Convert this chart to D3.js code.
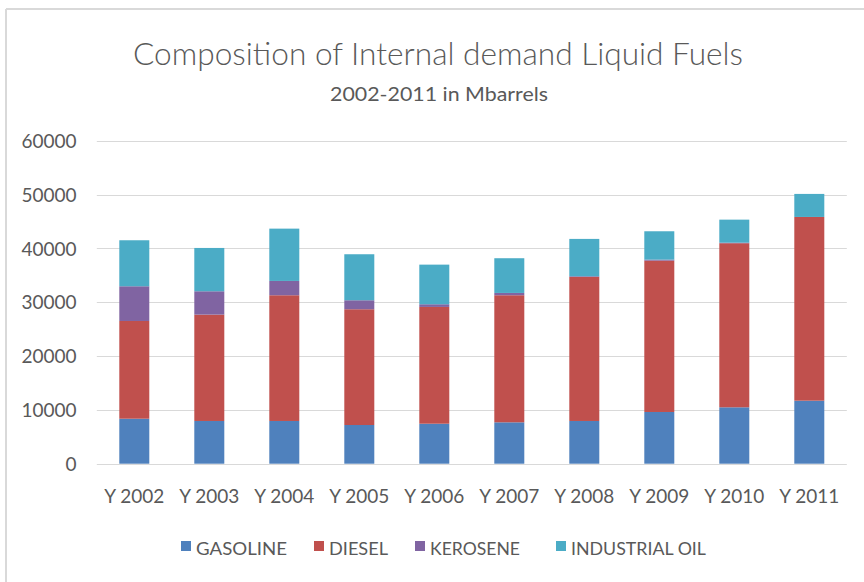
<!DOCTYPE html>
<html>
<head>
<meta charset="utf-8">
<script src="https://cdn.jsdelivr.net/npm/d3@7"></script>
<style>
  html, body { margin: 0; padding: 0; background: #fff; }
  svg { display: block; }
  text { font-family: Lato, "Open Sans", sans-serif; fill: #595959; }
</style>
</head>
<body>
<svg id="chart" width="864" height="582"></svg>
<script>
const categories = ["Y 2002","Y 2003","Y 2004","Y 2005","Y 2006","Y 2007","Y 2008","Y 2009","Y 2010","Y 2011"];
const seriesNames = ["GASOLINE","DIESEL","KEROSENE","INDUSTRIAL OIL"];
const gasoline   = [8360, 7940, 7940, 7190, 7430, 7690, 7940, 9610, 10480, 11710];
const diesel     = [18160, 19760, 23360, 21510, 21700, 23610, 26760, 28120, 30490, 34140];
const kerosene   = [6450, 4340, 2660, 1670, 500, 430, 130, 190, 100, 0];
const industrial = [8550, 8050, 9720, 8550, 7360, 6450, 6940, 5270, 4280, 4280];
const yTicks = [0, 10000, 20000, 30000, 40000, 50000, 60000];
const colors = ["#4F81BD", "#C0504D", "#8064A2", "#4BACC6"];
const titleText = "Composition of Internal demand Liquid Fuels";
const subtitleText = "2002-2011 in Mbarrels";

const svg = d3.select("#chart");

// chart border (left & top visible)
svg.append("line").attr("x1", 6).attr("x2", 6).attr("y1", 9).attr("y2", 582)
  .attr("stroke", "#d9d9d9").attr("stroke-width", 2);
svg.append("line").attr("x1", 6).attr("x2", 864).attr("y1", 9).attr("y2", 9)
  .attr("stroke", "#d9d9d9").attr("stroke-width", 2);

const plot = { left: 96.8, right: 846.8, top: 140.8, bottom: 463.7 };

const x = d3.scaleBand().domain(categories).range([plot.left, plot.right]).paddingInner(0.6).paddingOuter(0.3);
const y = d3.scaleLinear().domain([0, 60000]).range([plot.bottom, plot.top]);

// gridlines
svg.append("g").selectAll("line").data(yTicks).join("line")
  .attr("x1", plot.left).attr("x2", plot.right)
  .attr("y1", d => Math.round(y(d)) + 0.5).attr("y2", d => Math.round(y(d)) + 0.5)
  .attr("stroke", "#d9d9d9").attr("stroke-width", 1);

// y axis labels
const yAxis = d3.axisLeft(y).tickValues(yTicks).tickSize(0).tickPadding(0).tickFormat(d3.format("d"));
const gy = svg.append("g").attr("transform", `translate(${76.5},0)`).call(yAxis);
gy.select(".domain").remove();
gy.selectAll("text").attr("font-size", 19).attr("fill", "#595959")
  .attr("font-family", "Lato, sans-serif").attr("dy", "0.35em");

// x axis labels
const xAxis = d3.axisBottom(x).tickSize(0).tickPadding(0);
const gx = svg.append("g").attr("transform", `translate(0,${503})`).call(xAxis);
gx.select(".domain").remove();
gx.selectAll("text").attr("font-size", 19).attr("fill", "#595959")
  .attr("font-family", "Lato, sans-serif").attr("dy", 0).attr("y", 0);

// stacked bars
const table = categories.map((c, i) => ({
  cat: c, GASOLINE: gasoline[i], DIESEL: diesel[i], KEROSENE: kerosene[i], "INDUSTRIAL OIL": industrial[i]
}));
const stack = d3.stack().keys(seriesNames)(table);
svg.append("g").selectAll("g").data(stack).join("g")
  .attr("fill", (d, i) => colors[i])
  .selectAll("rect").data(d => d).join("rect")
  .attr("x", d => x(d.data.cat))
  .attr("width", x.bandwidth())
  .attr("y", d => y(d[1]))
  .attr("height", d => Math.max(0, y(d[0]) - y(d[1])));

// title
svg.append("text").attr("x", 438).attr("y", 65).attr("text-anchor", "middle")
  .attr("font-size", 31).attr("font-weight", 300)
  .attr("textLength", 610).attr("lengthAdjust", "spacingAndGlyphs").text(titleText);
svg.append("text").attr("x", 439).attr("y", 101).attr("text-anchor", "middle")
  .attr("font-size", 18.5)
  .attr("textLength", 218).attr("lengthAdjust", "spacingAndGlyphs").text(subtitleText);

// legend
const legendX = [181, 314, 415, 556];
const legendW = [91, 59, 90, 135];
const lg = svg.append("g").selectAll("g").data(seriesNames).join("g")
  .attr("transform", (d, i) => `translate(${legendX[i]},540)`);
lg.append("rect").attr("width", 10).attr("height", 10).attr("y", 1).attr("fill", (d, i) => colors[i]);
lg.append("text").attr("x", 15).attr("y", 15).attr("font-size", 17.5)
  .attr("textLength", (d, i) => legendW[i]).attr("lengthAdjust", "spacingAndGlyphs").text(d => d);
</script>
</body>
</html>
